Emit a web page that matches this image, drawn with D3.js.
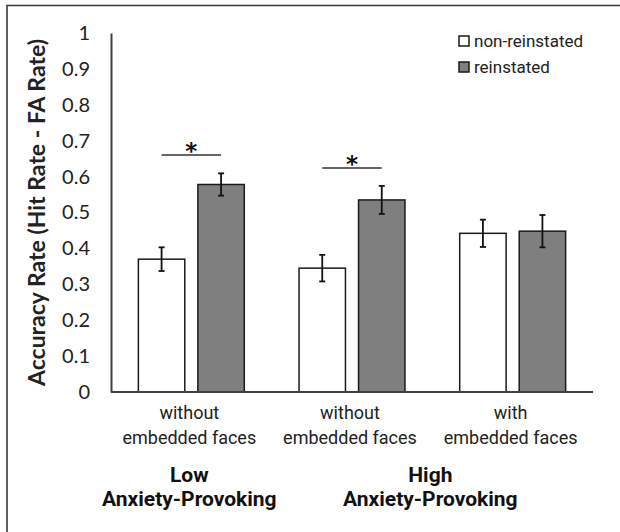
<!DOCTYPE html>
<html>
<head>
<meta charset="utf-8">
<script src="https://cdn.jsdelivr.net/npm/d3@7"></script>
<style>
  body { margin: 0; background: #fff; }
  svg { display: block; }
  .tick text { font-family: Lato, "Open Sans", sans-serif; font-size: 20px; fill: #222; }
  .cat { font-family: Roboto, "Noto Sans", sans-serif; font-size: 18px; fill: #222; }
  .anx { font-family: Roboto, "Noto Sans", sans-serif; font-size: 21px; font-weight: bold; fill: #111; }
  .legend text { font-family: Roboto, "Noto Sans", sans-serif; font-size: 17px; fill: #222; }
</style>
</head>
<body>
<svg id="chart" width="620" height="532"></svg>
<script>
const groups = ['g1', 'g2', 'g3'];
const groupLabels = [['without', 'embedded faces'], ['without', 'embedded faces'], ['with', 'embedded faces']];
const anxietyLabels = [['Low', 'Anxiety-Provoking'], ['High', 'Anxiety-Provoking']];
const anxietyGroups = [['g1'], ['g2', 'g3']];
const series = ['non-reinstated', 'reinstated'];
const nonReinstated = [0.370, 0.345, 0.442];
const reinstated = [0.578, 0.535, 0.448];
const nonReinstatedErr = [0.033, 0.037, 0.038];
const reinstatedErr = [0.031, 0.039, 0.045];
const yTicks = [0, 0.1, 0.2, 0.3, 0.4, 0.5, 0.6, 0.7, 0.8, 0.9, 1];
const sigGroups = ['g1', 'g2'];
const sigLevels = [0.66, 0.624];

(function() {
  const svg = d3.select('#chart');
  const margin = {top: 33, left: 111, right: 27, bottom: 140};
  const width = 620, height = 532;
  const colors = {'non-reinstated': '#ffffff', 'reinstated': '#7f7f7f'};

  // frame (only top and left edges visible in the reference)
  svg.append('path')
    .attr('d', 'M7,532 L7,5.5 L620,5.5')
    .attr('fill', 'none')
    .attr('stroke', '#3a3a3a')
    .attr('stroke-width', 1.6);

  let x0 = d3.scaleBand().domain(groups).range([margin.left, width - margin.right]);
  let x1 = d3.scaleBand().domain(series).range([0, x0.bandwidth()])
    .paddingInner(0.22).paddingOuter(0.46);
  let y = d3.scaleLinear().domain([0, 1]).range([height - margin.bottom, margin.top]);

  let rows = groups.map((g, i) => ({
    group: g,
    values: [
      {key: 'non-reinstated', value: nonReinstated[i], err: nonReinstatedErr[i]},
      {key: 'reinstated', value: reinstated[i], err: reinstatedErr[i]}
    ]
  }));

  // y axis
  let yAxis = d3.axisLeft(y).tickValues(yTicks).tickSize(0).tickPadding(21)
    .tickFormat(d => (d === 0 || d === 1) ? String(d) : d.toFixed(1));
  let gy = svg.append('g').attr('transform', 'translate(' + margin.left + ',0)').call(yAxis);
  gy.select('.domain').attr('stroke', '#404040').attr('stroke-width', 2);

  svg.append('text')
    .attr('transform', 'translate(45,' + ((y(0) + y(1)) / 2) + ') rotate(-90)')
    .attr('text-anchor', 'middle')
    .style('font-family', 'Lato, "Open Sans", sans-serif')
    .style('font-size', '23px')
    .style('font-weight', 'bold')
    .style('fill', '#222')
    .text('Accuracy Rate (Hit Rate - FA Rate)');

  // bars
  let gGroups = svg.append('g').selectAll('g')
    .data(rows)
    .enter()
    .append('g')
    .attr('transform', d => 'translate(' + x0(d.group) + ',0)');
  gGroups.selectAll('rect')
    .data(d => d.values)
    .enter()
    .append('rect')
    .attr('x', d => x1(d.key))
    .attr('y', d => y(d.value))
    .attr('width', x1.bandwidth())
    .attr('height', d => y(0) - y(d.value))
    .attr('fill', d => colors[d.key])
    .attr('stroke', '#1a1a1a')
    .attr('stroke-width', 1.5);

  // error bars
  let eb = gGroups.selectAll('g.err')
    .data(d => d.values)
    .enter()
    .append('g')
    .attr('class', 'err')
    .attr('stroke', '#111')
    .attr('stroke-width', 1.8);
  eb.append('line')
    .attr('x1', d => x1(d.key) + x1.bandwidth() / 2)
    .attr('x2', d => x1(d.key) + x1.bandwidth() / 2)
    .attr('y1', d => y(d.value + d.err))
    .attr('y2', d => y(d.value - d.err));
  eb.selectAll('line.cap')
    .data(d => [d.value + d.err, d.value - d.err].map(v => ({key: d.key, v: v})))
    .enter()
    .append('line')
    .attr('class', 'cap')
    .attr('x1', d => x1(d.key) + x1.bandwidth() / 2 - 3)
    .attr('x2', d => x1(d.key) + x1.bandwidth() / 2 + 3)
    .attr('y1', d => y(d.v))
    .attr('y2', d => y(d.v));

  // x axis line
  svg.append('line')
    .attr('x1', margin.left).attr('x2', width - margin.right)
    .attr('y1', y(0)).attr('y2', y(0))
    .attr('stroke', '#404040').attr('stroke-width', 2);

  // significance markers
  sigGroups.forEach((g, i) => {
    let xa = x0(g) + x1('non-reinstated') + x1.bandwidth() / 2;
    let xb = x0(g) + x1('reinstated') + x1.bandwidth() / 2;
    svg.append('line')
      .attr('x1', xa).attr('x2', xb)
      .attr('y1', y(sigLevels[i])).attr('y2', y(sigLevels[i]))
      .attr('stroke', '#333').attr('stroke-width', 1.6);
    svg.append('text')
      .attr('x', (xa + xb) / 2)
      .attr('y', y(sigLevels[i]) + 4)
      .attr('text-anchor', 'middle')
      .style('font-family', '"DejaVu Sans", sans-serif')
      .style('font-size', '23px')
      .style('font-weight', 'bold')
      .style('fill', '#111')
      .text('*');
  });

  // category labels
  let cats = svg.append('g').selectAll('text')
    .data(groups)
    .enter()
    .append('text')
    .attr('class', 'cat')
    .attr('text-anchor', 'middle')
    .attr('x', d => x0(d) + x0.bandwidth() / 2);
  cats.append('tspan')
    .attr('x', d => x0(d) + x0.bandwidth() / 2 - 2)
    .attr('y', 419)
    .text((d, i) => groupLabels[i][0]);
  cats.append('tspan')
    .attr('x', d => x0(d) + x0.bandwidth() / 2 - 2)
    .attr('y', 444)
    .text((d, i) => groupLabels[i][1]);

  // anxiety labels
  anxietyGroups.forEach((gs, i) => {
    let cx = d3.mean(gs, g => x0(g) + x0.bandwidth() / 2) - 2;
    let t = svg.append('text').attr('class', 'anx').attr('text-anchor', 'middle');
    t.append('tspan').attr('x', cx).attr('y', 482).text(anxietyLabels[i][0]);
    t.append('tspan').attr('x', cx).attr('y', 506).text(anxietyLabels[i][1]);
  });

  // legend
  let legend = svg.append('g').attr('class', 'legend')
    .selectAll('g')
    .data(series)
    .enter()
    .append('g')
    .attr('transform', (d, i) => 'translate(459,' + (36 + i * 26) + ')');
  legend.append('rect')
    .attr('width', 10).attr('height', 10)
    .attr('fill', d => colors[d])
    .attr('stroke', '#1a1a1a').attr('stroke-width', 1.5);
  legend.append('text')
    .attr('x', 15).attr('y', 10.5)
    .text(d => d);
})();
</script>
</body>
</html>
